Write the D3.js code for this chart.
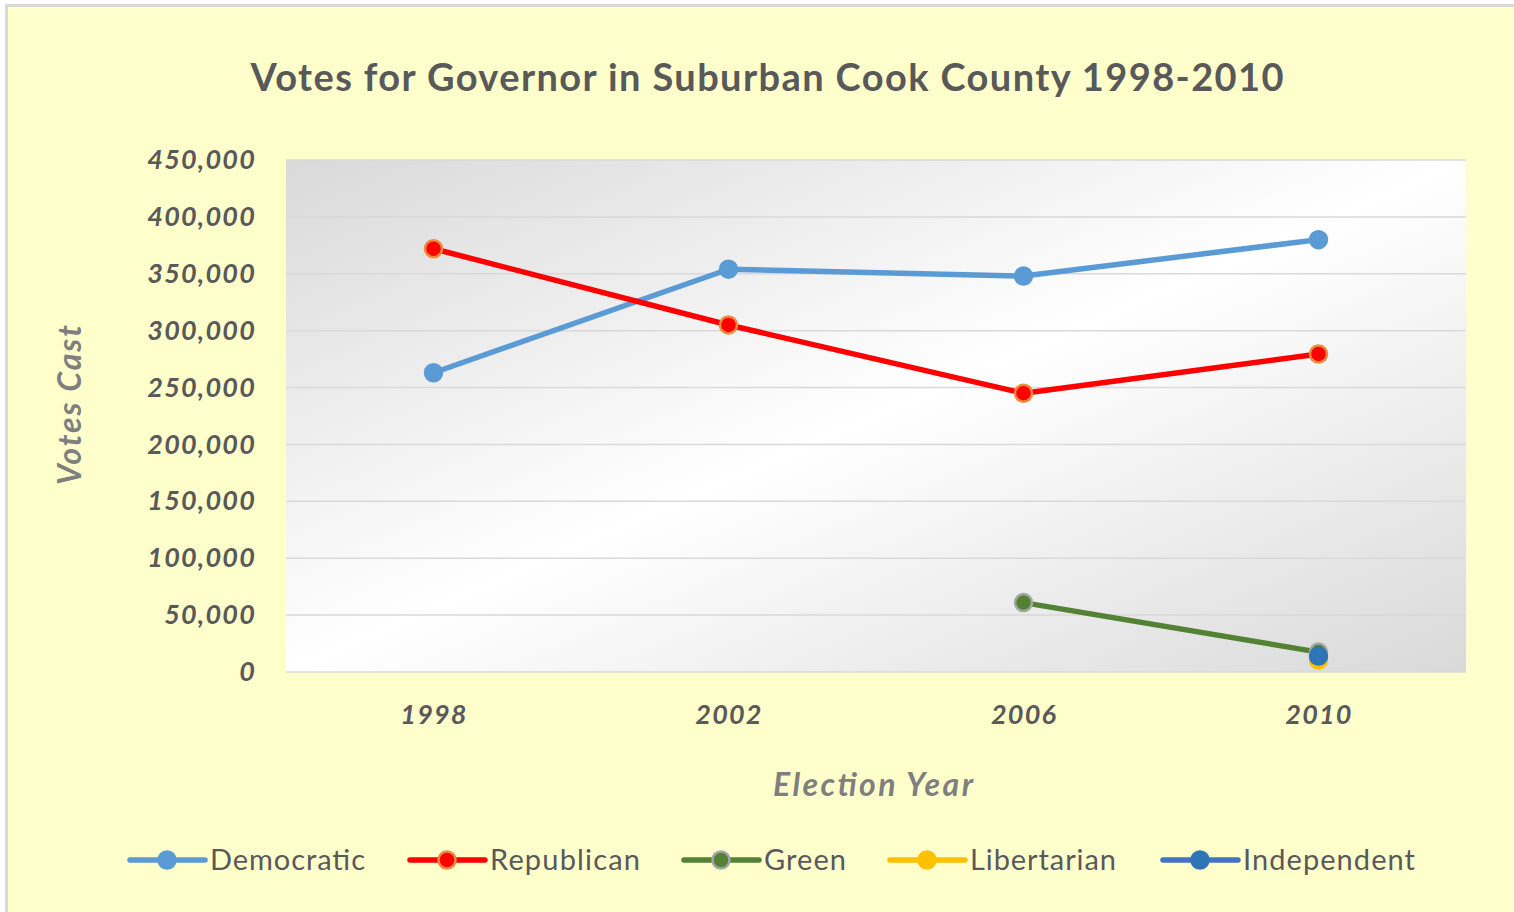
<!DOCTYPE html>
<html><head><meta charset="utf-8">
<script src="https://cdn.jsdelivr.net/npm/d3@7"></script>
<style>html,body{margin:0;padding:0;background:#fff;overflow:hidden}</style>
</head><body><svg id="c" width="1514" height="912"></svg>
<script>
const years = ["1998","2002","2006","2010"];
const democratic = [263000, 354000, 348000, 380000];
const republican = [372000, 305000, 245000, 279500];
const green = [null, null, 61000, 17500];
const libertarian = [null, null, null, 10500];
const independent = [null, null, null, 14000];
const yTicks = [0,50000,100000,150000,200000,250000,300000,350000,400000,450000];
const seriesNames = ["Democratic","Republican","Green","Libertarian","Independent"];
const lineColors = ["#5b9bd5","#ff0000","#548235","#ffc000","#4472c4"];
const markerFill = ["#5b9bd5","#ff0000","#548235","#ffc000","#2e75b6"];
const markerStroke = ["#5b9bd5","#f08a3c","#a5a5a5","#ffc000","#2e75b6"];
const seriesData = [democratic, republican, green, libertarian, independent];

const svg = d3.select("#c");
const font = "Lato, 'Open Sans', sans-serif";
svg.append("rect").attr("x",0).attr("y",0).attr("width",1514).attr("height",912).attr("fill","#fff");
svg.append("rect").attr("x",6.5).attr("y",5.5).attr("width",1520).attr("height",920)
  .attr("fill","#ffffcc").attr("stroke","#d9d9d9").attr("stroke-width",3);

const defs = svg.append("defs");
const g = defs.append("linearGradient").attr("id","pg").attr("x1",0).attr("y1",0).attr("x2",1).attr("y2",1);
g.append("stop").attr("offset","0").attr("stop-color","#d9d9d9");
g.append("stop").attr("offset","0.5").attr("stop-color","#ffffff");
g.append("stop").attr("offset","1").attr("stop-color","#d9d9d9");

const L=286,R=1466,T=160,B=672;
svg.append("rect").attr("x",L).attr("y",T).attr("width",R-L).attr("height",B-T).attr("fill","url(#pg)");

const x = d3.scalePoint().domain(years).range([L,R]).padding(0.5);
const y = d3.scaleLinear().domain([0,450000]).range([B,T]);

svg.append("g").selectAll("line").data(yTicks).join("line")
  .attr("x1",L).attr("x2",R).attr("y1",d=>y(d)).attr("y2",d=>y(d))
  .attr("stroke","#d9d9d9").attr("stroke-width",1.5);

const yAxis = d3.axisLeft(y).tickValues(yTicks).tickFormat(d3.format(",")).tickSize(0).tickPadding(30);
const ya = svg.append("g").attr("transform",`translate(${L},0)`).call(yAxis);
ya.select(".domain").remove();
ya.selectAll("text").attr("font-family",font).attr("font-size",27).attr("font-weight","bold")
  .attr("font-style","italic").attr("fill","#595959").attr("letter-spacing",1.2);

const xAxis = d3.axisBottom(x).tickSize(0).tickPadding(33);
const xa = svg.append("g").attr("transform",`translate(0,${B})`).call(xAxis);
xa.select(".domain").remove();
xa.selectAll("text").attr("font-family",font).attr("font-size",27).attr("font-weight","bold")
  .attr("font-style","italic").attr("fill","#595959").attr("letter-spacing",1.2);

svg.append("text").attr("x",767).attr("y",91).attr("text-anchor","middle")
  .attr("font-family",font).attr("font-size",38).attr("font-weight","bold").attr("fill","#595959")
  .attr("textLength",1033).attr("lengthAdjust","spacing")
  .text("Votes for Governor in Suburban Cook County 1998-2010");
svg.append("text").attr("transform","translate(81,405) rotate(-90)").attr("text-anchor","middle")
  .attr("font-family",font).attr("font-size",32).attr("font-weight","bold").attr("font-style","italic").attr("fill","#7f7f7f")
  .attr("textLength",160).attr("lengthAdjust","spacing")
  .text("Votes Cast");
svg.append("text").attr("x",873).attr("y",796).attr("text-anchor","middle")
  .attr("font-family",font).attr("font-size",32).attr("font-weight","bold").attr("font-style","italic").attr("fill","#7f7f7f")
  .attr("textLength",200).attr("lengthAdjust","spacing")
  .text("Election Year");

const line = d3.line().defined(d=>d.v!=null).x(d=>x(d.yr)).y(d=>y(d.v));
seriesData.forEach((arr,i)=>{
  const pts = years.map((yr,j)=>({yr, v:arr[j]}));
  svg.append("path").datum(pts).attr("d",line).attr("fill","none")
    .attr("stroke",lineColors[i]).attr("stroke-width",5.5).attr("stroke-linejoin","round");
});
seriesData.forEach((arr,i)=>{
  const pts = years.map((yr,j)=>({yr, v:arr[j]})).filter(d=>d.v!=null);
  svg.append("g").selectAll("circle").data(pts).join("circle")
    .attr("cx",d=>x(d.yr)).attr("cy",d=>y(d.v)).attr("r",8.5)
    .attr("fill",markerFill[i]).attr("stroke",markerStroke[i]).attr("stroke-width",2.5);
});

const legX = [130,410,684,890,1163];
const legW = [155,150,82,146,172];
const lg = svg.append("g");
seriesNames.forEach((n,i)=>{
  const gx = legX[i];
  lg.append("line").attr("x1",gx).attr("x2",gx+75).attr("y1",860).attr("y2",860)
    .attr("stroke",lineColors[i]).attr("stroke-width",5.5).attr("stroke-linecap","round");
  lg.append("circle").attr("cx",gx+37).attr("cy",860).attr("r",8.5)
    .attr("fill",markerFill[i]).attr("stroke",markerStroke[i]).attr("stroke-width",2.5);
  lg.append("text").attr("x",gx+80).attr("y",870).attr("font-family",font).attr("font-size",29)
    .attr("fill","#595959").attr("textLength",legW[i]).attr("lengthAdjust","spacing").text(n);
});
</script></body></html>
